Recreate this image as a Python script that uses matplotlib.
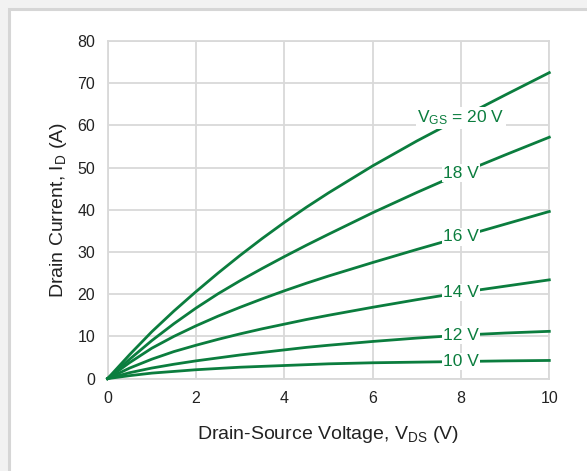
import numpy as np
import matplotlib
matplotlib.use("Agg")
import matplotlib.pyplot as plt
from matplotlib.patches import Rectangle

plt.rcParams['font.family'] = ['Liberation Sans', 'DejaVu Sans']
plt.rcParams['mathtext.fontset'] = 'custom'
plt.rcParams['mathtext.rm'] = 'Liberation Sans'
plt.rcParams['mathtext.it'] = 'Liberation Sans'

# drain-source voltage (V)
vds = [0, 0.5, 1, 1.5, 2, 2.5, 3, 3.5, 4, 4.5, 5, 6, 7, 8, 9, 10]

# drain current (A) for each gate voltage
id_20 = [0, 5.7, 11.1, 16.0, 20.6, 25.0, 29.2, 33.2, 37.0, 40.6, 44.0, 50.4, 56.3, 61.8, 67.2, 72.5]
id_18 = [0, 4.6, 9.0, 13.0, 16.7, 20.1, 23.2, 26.1, 28.9, 31.6, 34.2, 39.3, 44.1, 48.7, 53.0, 57.2]
id_16 = [0, 3.8, 7.2, 10.0, 12.5, 14.8, 16.9, 18.9, 20.8, 22.6, 24.3, 27.5, 30.6, 33.6, 36.6, 39.6]
id_14 = [0, 2.5, 4.6, 6.4, 7.9, 9.3, 10.6, 11.8, 12.9, 14.0, 15.0, 16.9, 18.7, 20.4, 21.9, 23.4]
id_12 = [0, 1.4, 2.5, 3.4, 4.2, 4.9, 5.6, 6.2, 6.8, 7.4, 7.9, 8.8, 9.6, 10.3, 10.8, 11.2]
id_10 = [0, 0.7, 1.3, 1.7, 2.1, 2.4, 2.7, 2.9, 3.1, 3.3, 3.5, 3.75, 3.9, 4.05, 4.2, 4.3]

curves = [id_20, id_18, id_16, id_14, id_12, id_10]
labels = [r'$\mathregular{V_{GS}}$ = 20 V', '18 V', '16 V', '14 V', '12 V', '10 V']
label_x = 8

green = '#0b7d3e'
grid_gray = '#d9d9d9'

W, H = 587, 471
fig = plt.figure(figsize=(W / 100, H / 100), dpi=100)
fig.patch.set_facecolor('#f2f2f2')
# white card with light shadow edge
card = Rectangle((9 / W, -0.01), 1, 1 - 9 / H + 0.01, transform=fig.transFigure,
                 facecolor='white', edgecolor='#d6d6d6', linewidth=2.2, zorder=-10)
fig.add_artist(card)

ax = fig.add_axes([107.6 / W, 1 - 378.6 / H, (549.3 - 107.6) / W, (378.6 - 41) / H])
ax.set_facecolor('white')

for y, lab in zip(curves, labels):
    ax.plot(vds, y, color=green, lw=2.0, solid_joinstyle='round', zorder=3, clip_on=False)
    ly = y[vds.index(label_x)]
    ax.text(label_x, ly, lab, color=green, fontsize=12.5, ha='center', va='center', zorder=4,
            bbox=dict(facecolor='white', edgecolor='none', pad=1.0))

ax.set_xlim(0, 10)
ax.set_ylim(0, 80)
ax.set_xticks(np.arange(0, 11, 2))
ax.set_yticks(np.arange(0, 81, 10))
ax.grid(True, color=grid_gray, lw=1.3)
ax.set_axisbelow(True)
for s in ax.spines.values():
    s.set_color(grid_gray)
    s.set_linewidth(1.3)
ax.tick_params(length=0, labelsize=11.5, colors='#222222', pad=9)

ax.set_xlabel(r'Drain-Source Voltage, V$_{\mathregular{DS}}$ (V)', fontsize=14, color='#222222', labelpad=13)
ax.set_ylabel(r'Drain Current, I$_{\mathregular{D}}$ (A)', fontsize=14, color='#222222', labelpad=6)

fig.savefig('out.png', dpi=100, facecolor=fig.get_facecolor())
